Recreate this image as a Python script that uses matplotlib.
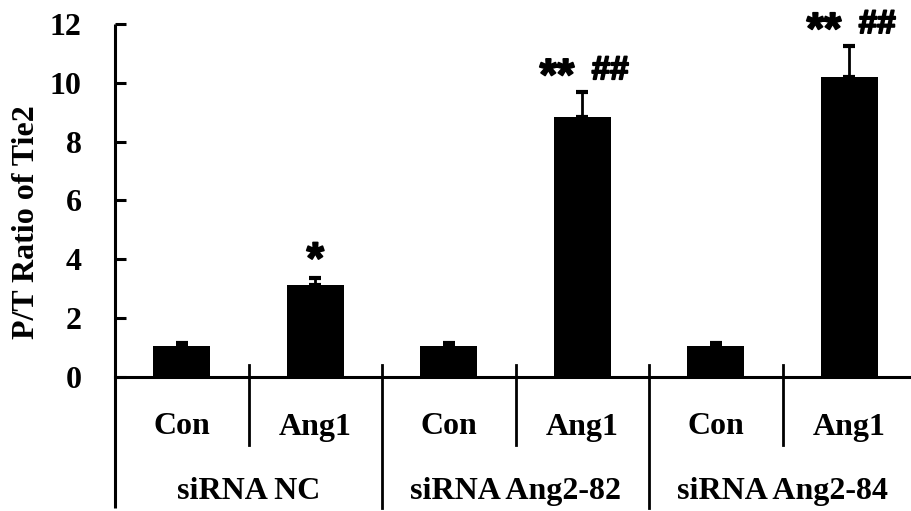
import numpy as np
import matplotlib as mpl
mpl.use('Agg')
import matplotlib.pyplot as plt
import matplotlib.patheffects as pe

# ========================================================================
# Data
# ========================================================================
conditions = ['Con', 'Ang1', 'Con', 'Ang1', 'Con', 'Ang1']
groups = ['siRNA NC', 'siRNA Ang2-82', 'siRNA Ang2-84']
ratio = [1.04, 3.12, 1.04, 8.83, 1.04, 10.18]
ratio_err = [0.09, 0.22, 0.09, 0.84, 0.09, 1.06]
stars = ['', '*', '', '**', '', '**']
hashes = ['', '', '', '##', '', '##']

# ========================================================================
# Figure
# ========================================================================
W, H = 911, 511
fig = plt.figure(figsize=(W / 100, H / 100), dpi=100)
x0, y0 = 115, 376.5          # pixel position of the origin
cat_w = 133.5                # pixel width of one category
top = 24
ax = fig.add_axes([x0 / W, (H - y0) / H, 6 * cat_w / W, (y0 - top) / H])

serif = 'Liberation Serif'
sans = 'Liberation Sans'
lw = 2.2
fs = 23
heavy = [pe.withStroke(linewidth=1.3, foreground='black')]

x = np.arange(len(ratio))
ax.bar(x, ratio, width=0.43, color='black', zorder=2)
ax.errorbar(x, ratio, yerr=[np.zeros(len(ratio)), ratio_err], fmt='none',
            ecolor='black', elinewidth=2, capsize=4, capthick=3, zorder=1)

ax.set_xlim(-0.5, 5.5)
ax.set_ylim(0, 12)
ax.set_yticks(np.arange(0, 13, 2))
ax.set_xticks([])
for s in ['top', 'right', 'left']:
    ax.spines[s].set_visible(False)
ax.spines['bottom'].set_linewidth(lw)
ax.tick_params(axis='y', direction='in', length=8, width=lw, pad=24)
for lab in ax.get_yticklabels():
    lab.set_fontfamily(serif)
    lab.set_fontweight('bold')
    lab.set_fontsize(fs)

# y axis running down through the category area
bot = (y0 - 508) / (y0 - top)
ax.plot([-0.5, -0.5], [bot, 1], color='black', lw=lw,
        transform=ax.get_xaxis_transform(), clip_on=False,
        solid_capstyle='butt')

# separators
sep_top = (y0 - 365) / (y0 - top)
sep_short = (y0 - 445) / (y0 - top)
for k in [0.5, 2.5, 4.5]:
    ax.plot([k, k], [sep_top, sep_short], color='black', lw=2,
            transform=ax.get_xaxis_transform(), clip_on=False)
for k in [1.5, 3.5]:
    ax.plot([k, k], [sep_top, bot], color='black', lw=2,
            transform=ax.get_xaxis_transform(), clip_on=False)

# category and group labels
cat_y = (y0 - 427) / (y0 - top)
grp_y = (y0 - 491) / (y0 - top)
for i, c in enumerate(conditions):
    ax.text(i, cat_y, c, transform=ax.get_xaxis_transform(), ha='center',
            va='center', fontfamily=serif, fontweight='bold', fontsize=fs)
for j, g in enumerate(groups):
    ax.text(2 * j + 0.5, grp_y, g, transform=ax.get_xaxis_transform(),
            ha='center', va='center', fontfamily=serif, fontweight='bold',
            fontsize=fs)

# significance marks
for i in range(len(ratio)):
    etop = ratio[i] + ratio_err[i]
    if stars[i] and not hashes[i]:
        ax.text(i, etop + 0.18, stars[i], ha='center', va='baseline',
                fontfamily=sans, fontweight='bold', fontsize=32,
                path_effects=heavy)
    elif stars[i]:
        ax.text(i - 0.19, etop + 0.1, stars[i], ha='center', va='baseline',
                fontfamily=sans, fontweight='bold', fontsize=32,
                path_effects=heavy)
        ax.text(i + 0.21, etop + 0.45, hashes[i], ha='center', va='baseline',
                fontfamily=sans, fontweight='bold', fontsize=24,
                path_effects=heavy)

fig.text(27 / W, (H - 222) / H, 'P/T Ratio of Tie2', rotation=90,
         ha='center', va='center', fontfamily=serif, fontweight='bold',
         fontsize=fs)

plt.savefig('out.png', dpi=100)
